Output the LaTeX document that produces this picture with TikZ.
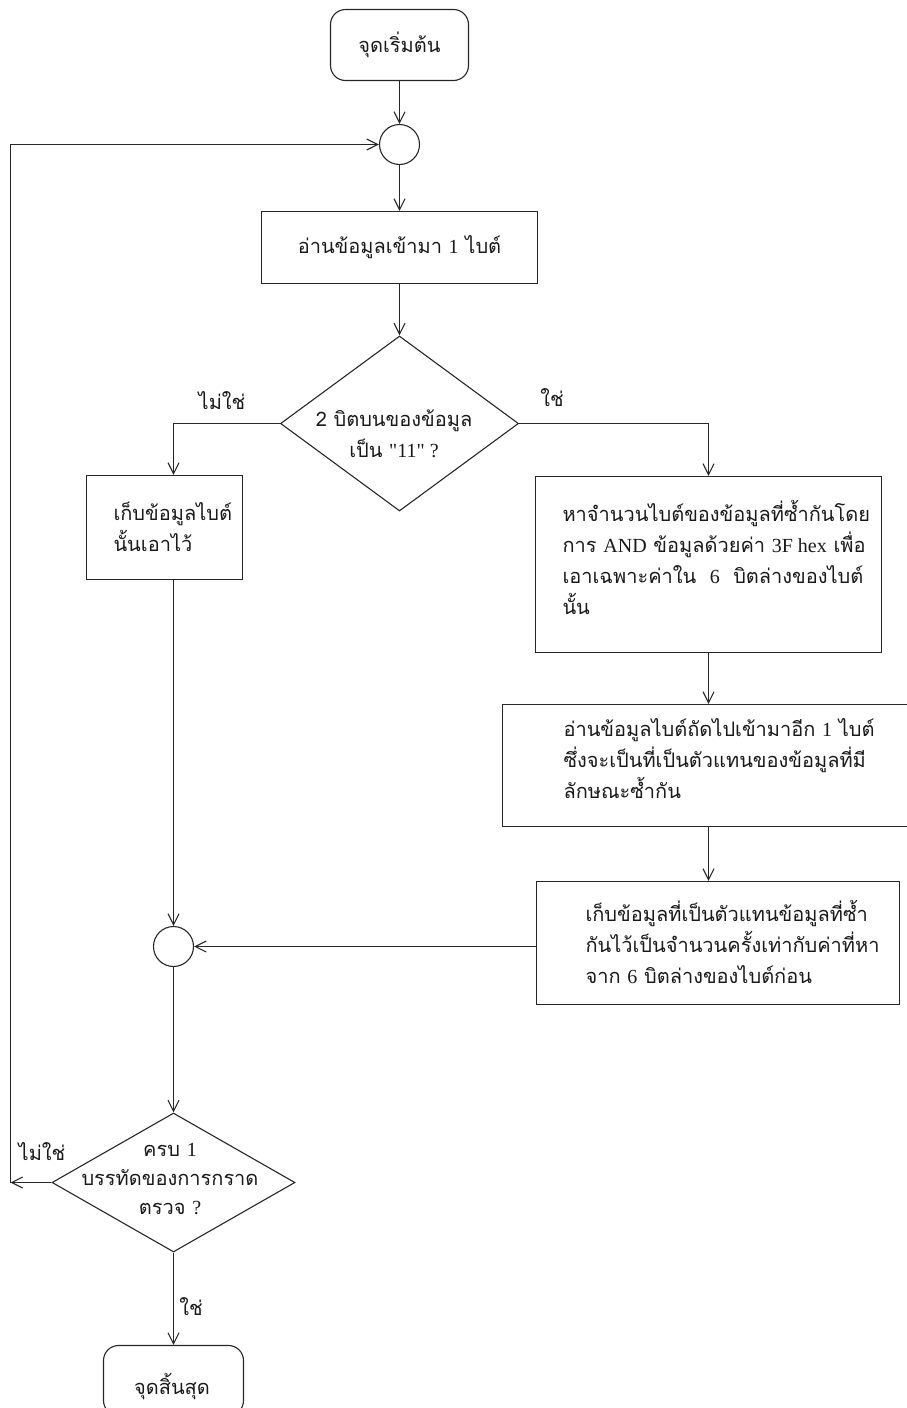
\documentclass[tikz,border=0pt]{standalone}
\usepackage{fontspec}
\setmainfont[Script=Thai]{Loma}
\newfontfamily\lat{Liberation Serif}
\usetikzlibrary{arrows.meta,shapes.geometric,calc}
\begin{document}
\begin{tikzpicture}[x=1pt,y=-1pt, line width=1.1pt, draw=black!85,
  >={Straight Barb[length=11pt,width=11pt]},
  every node/.style={font=\fontsize{20}{31}\selectfont, text=black!90},
  box/.style={draw=black!85, rectangle, inner sep=0pt},
  term/.style={draw=black!85, rectangle, rounded corners=15pt, inner sep=0pt},
  junc/.style={draw=black!85, circle, minimum size=40pt, inner sep=0pt},
  dia/.style={draw=black!85, diamond, inner sep=0pt},
  txt/.style={inner sep=0pt, align=left},
  ctxt/.style={inner sep=0pt, align=center},
  lbl/.style={inner sep=0pt}]
\useasboundingbox (0,0) rectangle (907,1408);
% nodes
\node[term, minimum width=138pt, minimum height=71pt] (start) at (399.5,45) {จุดเริ่มต้น};
\node[junc] (c1) at (399.5,144.5) {};
\node[box, minimum width=276pt, minimum height=72pt] (b1) at (399.5,247.5) {อ่านข้อมูลเข้ามา {\lat 1} ไบต์};
\node[dia, minimum width=238pt, minimum height=175pt] (d1) at (399.5,423.5) {};
\node[ctxt] (d1t) at (394,434) {2 บิตบนของข้อมูล\\เป็น {\lat "11" ?}};
\node[box, minimum width=156pt, minimum height=104pt] (b2) at (164.5,527.5) {};
\node[txt, anchor=west] (b2t) at (113,527) {เก็บข้อมูลไบต์\\นั้นเอาไว้};
\node[box, minimum width=346pt, minimum height=176pt] (b3) at (708.5,564.5) {};
\node[txt, anchor=west] (b3t) at (562,557) {หาจำนวนไบต์ของข้อมูลที่ซ้ำกันโดย\\การ {\lat AND} ข้อมูลด้วยค่า {\lat 3F hex} เพื่อ\\เอาเฉพาะค่าใน \ {\lat 6} \ บิตล่างของไบต์\\นั้น};
\node[box, minimum width=408pt, minimum height=122pt] (b4) at (706.5,765.5) {};
\node[txt, anchor=west] (b4t) at (563,759) {อ่านข้อมูลไบต์ถัดไปเข้ามาอีก {\lat 1} ไบต์\\ซึ่งจะเป็นที่เป็นตัวแทนของข้อมูลที่มี\\ลักษณะซ้ำกัน};
\node[box, minimum width=363pt, minimum height=123pt] (b5) at (718,943) {};
\node[txt, anchor=west] (b5t) at (585,942) {เก็บข้อมูลที่เป็นตัวแทนข้อมูลที่ซ้ำ\\กันไว้เป็นจำนวนครั้งเท่ากับค่าที่หา\\จาก {\lat 6} บิตล่างของไบต์ก่อน};
\node[junc] (c2) at (173.5,946.5) {};
\node[dia, minimum width=243pt, minimum height=139pt] (d2) at (173.5,1182.5) {};
\node[ctxt, font=\fontsize{20}{29}\selectfont] (d2t) at (170,1179) {ครบ {\lat 1}\\บรรทัดของการกราด\\ตรวจ {\lat ?}};
\node[term, minimum width=140pt, minimum height=70pt] (end) at (173.5,1380.5) {};
\node[lbl] (endt) at (172,1386) {จุดสิ้นสุด};
% labels
\node[lbl] (l1) at (222,401) {ไม่ใช่};
\node[lbl] (l2) at (552,398) {ใช่};
\node[lbl] (l3) at (42,1152) {ไม่ใช่};
\node[lbl] (l4) at (191,1307) {ใช่};
\coordinate (lp) at (10.5,0);
% connectors
\draw[->] (start.south) -- (c1.north);
\draw[->] (c1.south) -- (b1.north);
\draw[->] (b1.south) -- (d1.north);
\draw[->] (d1.west) -| (c2 |- b2.north);
\draw[->] (d1.east) -| (b3.north);
\draw[->] (b3.south) -- (b3.south |- b4.north);
\draw[->] (b3.south |- b4.south) -- (b3.south |- b5.north);
\draw[->] (b5.west |- c2) -- (c2.east);
\draw[->] (c2 |- b2.south) -- (c2.north);
\draw[->] (c2.south) -- (d2.north);
\draw[->] (d2.west) -- (lp |- d2.west);
\draw[->] (lp |- d2.west) -- (lp |- c1) -- (c1.west);
\draw[->] (d2.south) -- (end.north);
\end{tikzpicture}
\end{document}
